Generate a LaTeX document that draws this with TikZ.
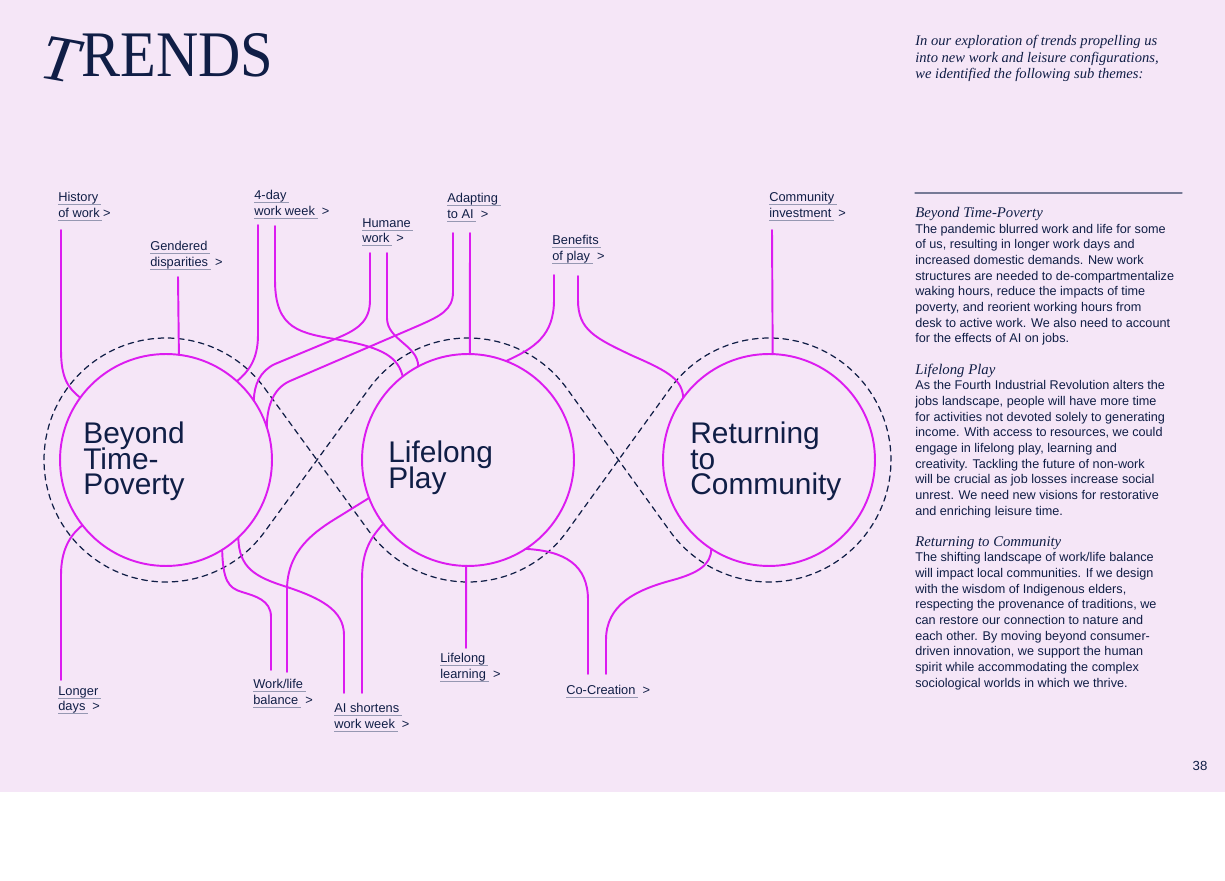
\documentclass[tikz,border=0pt]{standalone}
\usepackage{fontspec}
\usepackage{graphicx}
\setmainfont{Liberation Sans}
\newfontfamily\serifface{Liberation Serif}
\usetikzlibrary{calc}

\definecolor{pagepink}{RGB}{245,230,247}
\definecolor{magline}{RGB}{220,28,240}
\definecolor{navy}{RGB}{16,30,70}
\definecolor{rulegray}{RGB}{150,152,178}
\definecolor{colrule}{RGB}{118,122,150}

\newsavebox\lnkbox
\newcommand{\lnk}[1]{\sbox\lnkbox{#1}\rlap{\color{rulegray}\rule[-1.7pt]{\dimexpr\wd\lnkbox+1.5pt\relax}{0.35pt}}\usebox\lnkbox}
\newcommand{\lbl}[2]{\lnk{#1}\\\lnk{#2}\hspace{4pt}>}
\newcommand{\subhd}[1]{{\serifface\itshape\fontsize{8.4}{8.91}\selectfont #1}}
\newcommand{\topicfont}{\fontsize{17}{14.4}\selectfont\lineskiplimit=-30pt\relax}

\begin{document}
\begin{tikzpicture}[x=0.02cm,y=-0.02cm,line cap=round]
  \tikzstyle{topic}=[circle,draw=magline,line width=1.1pt,minimum size=4.24cm,inner sep=0pt,outer sep=0pt]
  \tikzstyle{topictext}=[anchor=north west,inner sep=0pt,align=left,text=navy,font=\topicfont]
  \tikzstyle{link}=[anchor=north west,inner sep=0pt,align=left,text=navy,font=\fontsize{7.3}{9}\selectfont]
  \tikzstyle{wire}=[draw=magline,line width=1.1pt]
  \tikzstyle{loopline}=[draw=navy,line width=0.7pt,dash pattern=on 3.2pt off 2.6pt]

  % page
  \fill[pagepink] (0,0) rectangle (1225,792);
  \fill[white] (0,792) rectangle (1225,881);
  \useasboundingbox (0,0) rectangle (1225,881);

  % title and intro
  \node[anchor=base west,inner sep=0pt,text=navy,font=\serifface\fontsize{37}{40}\selectfont] (trends) at (81,77) {\scalebox{0.9}[1]{RENDS}};
  \node[anchor=base east,inner sep=0pt,text=navy,font=\serifface\itshape\fontsize{37}{40}\selectfont,rotate=-10] (trendsT) at (74,84) {T};
  \node[anchor=north west,inner sep=0pt,align=left,text=navy,font=\serifface\itshape\fontsize{8.3}{9.35}\selectfont] (intro) at (915,35)
    {In our exploration of trends propelling us\\into new work and leisure configurations,\\we identified the following sub themes:};

  % dashed loops
  \coordinate (o1) at (166,460);
  \coordinate (o2) at (468,460);
  \coordinate (o3) at (769,460);
  \draw[loopline] ($(o1)+(-36:122)$) -- ($(o2)+(144:122)$) arc[start angle=144,end angle=36,radius=122]
    -- ($(o3)+(216:122)$) arc[start angle=216,end angle=504,radius=122]
    -- ($(o2)+(-36:122)$) arc[start angle=-36,end angle=-144,radius=122]
    -- ($(o1)+(36:122)$) arc[start angle=36,end angle=324,radius=122] -- cycle;

  % themes
  \node[topic] (bt) at (o1) {};
  \node[topic] (lp) at (o2) {};
  \node[topic] (rc) at (o3) {};
  \node[topictext] (btt) at (83,422) {Beyond\\Time-\\Poverty};
  \node[topictext] (lpt) at (388,441) {Lifelong\\Play};
  \node[topictext] (rct) at (690,422) {Returning\\to\\Community};

  % sub themes
  \node[link] (lhist) at (58,192) {\lnk{History}\\\lnk{of work}\hspace{2pt}>};
  \node[link] (lgend) at (150,241) {\lbl{Gendered}{disparities}};
  \node[link] (lfour) at (254,190) {\lbl{4-day}{work week}};
  \node[link] (lhum) at (362,218) {\lbl{Humane}{work}};
  \node[link] (lada) at (447,193) {\lbl{Adapting}{to AI}};
  \node[link] (lben) at (552,235) {\lbl{Benefits}{of play}};
  \node[link] (lcomm) at (769,192) {\lbl{Community}{investment}};
  \node[link] (llong) at (58,686) {\lbl{Longer}{days}};
  \node[link] (lwl) at (253,679) {\lbl{Work/life}{balance}};
  \node[link] (lais) at (334,703) {\lbl{AI shortens}{work week}};
  \node[link] (llear) at (440,653) {\lbl{Lifelong}{learning}};
  \node[link] (lco) at (566,685) {\lnk{Co-Creation}\hspace{4pt}>};

  \coordinate (hist) at (61,230);
  \coordinate (gend) at (178,277);
  \coordinate (fourA) at (258,225);
  \coordinate (fourB) at (275,226);
  \coordinate (humA) at (370,253);
  \coordinate (humB) at (387,253);
  \coordinate (adaA) at (453,233);
  \coordinate (adaB) at (470,233);
  \coordinate (benA) at (554,275);
  \coordinate (benB) at (578,276);
  \coordinate (comm) at (772,230);
  \coordinate (long) at (61,680);
  \coordinate (wlA) at (271,670);
  \coordinate (wlB) at (287,672);
  \coordinate (aisA) at (344,693);
  \coordinate (aisB) at (362,693);
  \coordinate (lear) at (466,648);
  \coordinate (coA) at (588,674);
  \coordinate (coB) at (606,674);

  \draw[wire] (hist) -- (61,350) .. controls (61,378) and (68,388) .. (bt.144);
  \draw[wire] (gend) -- (bt.83.5);
  \draw[wire] (fourA) -- (258,335) .. controls (258,360) and (248,372) .. (bt.48);
  \draw[wire] (fourB) -- (275,280) .. controls (275,330) and (300,333) .. (340,340) .. controls (385,348) and (398,358) .. (lp.128);
  \draw[wire] (humA) -- (370,300) .. controls (370,322) and (357,330) .. (335,339) -- (275,364) .. controls (260,371) and (254,385) .. (bt.34);
  \draw[wire] (humB) -- (387,318) .. controls (387,340) and (418,345) .. (lp.118);
  \draw[wire] (adaA) -- (453,292) .. controls (453,310) and (440,316) .. (420,325) -- (290,381) .. controls (274,388) and (267,405) .. (bt.18);
  \draw[wire] (adaB) -- (lp.89);
  \draw[wire] (benA) -- (554,300) .. controls (554,335) and (535,348) .. (lp.69.5);
  \draw[wire] (benB) -- (578,300) .. controls (578,330) and (595,338) .. (633,356) .. controls (670,372) and (682,380) .. (rc.144);
  \draw[wire] (comm) -- (rc.88.4);
  \draw[wire] (long) -- (61,575) .. controls (61,550) and (70,535) .. (bt.218);
  \draw[wire] (wlA) -- (271,617) .. controls (271,600) and (255,596) .. (242,592) .. controls (228,588) and (223,580) .. (bt.302);
  \draw[wire] (wlB) -- (287,590) .. controls (287,550) and (315,531) .. (340,516) -- (lp.201);
  \draw[wire] (aisA) -- (344,635) .. controls (344,610) and (320,598) .. (287,587) .. controls (255,577) and (239,568) .. (bt.313);
  \draw[wire] (aisB) -- (362,580) .. controls (362,555) and (368,540) .. (lp.217);
  \draw[wire] (lear) -- (lp.269);
  \draw[wire] (coA) -- (588,600) .. controls (588,565) and (565,551) .. (lp.303.5);
  \draw[wire] (coB) -- (606,640) .. controls (606,605) and (635,590) .. (673,580) .. controls (698,573) and (711,565) .. (rc.237);

  % right column
  \draw[colrule,line width=0.75pt] (915,193) -- (1182,193);
  \node[anchor=north west,inner sep=0pt,align=left,text=navy,font=\fontsize{7.2}{8.91}\selectfont] (desc) at (915,207) {%
    \subhd{Beyond Time-Poverty}\\
    The pandemic blurred work and life for some\\
    of us, resulting in longer work days and\\
    increased domestic demands. New work\\
    structures are needed to de-compartmentalize\\
    waking hours, reduce the impacts of time\\
    poverty, and reorient working hours from\\
    desk to active work. We also need to account\\
    for the effects of AI on jobs.\\[8.91pt]
    \subhd{Lifelong Play}\\
    As the Fourth Industrial Revolution alters the\\
    jobs landscape, people will have more time\\
    for activities not devoted solely to generating\\
    income. With access to resources, we could\\
    engage in lifelong play, learning and\\
    creativity. Tackling the future of non-work\\
    will be crucial as job losses increase social\\
    unrest. We need new visions for restorative\\
    and enriching leisure time.\\[8.91pt]
    \subhd{Returning to Community}\\
    The shifting landscape of work/life balance\\
    will impact local communities. If we design\\
    with the wisdom of Indigenous elders,\\
    respecting the provenance of traditions, we\\
    can restore our connection to nature and\\
    each other. By moving beyond consumer-\\
    driven innovation, we support the human\\
    spirit while accommodating the complex\\
    sociological worlds in which we thrive.};
  \node[inner sep=0pt,text=navy,font=\fontsize{7.5}{9}\selectfont] (pnum) at (1200,766) {38};
\end{tikzpicture}
\end{document}
